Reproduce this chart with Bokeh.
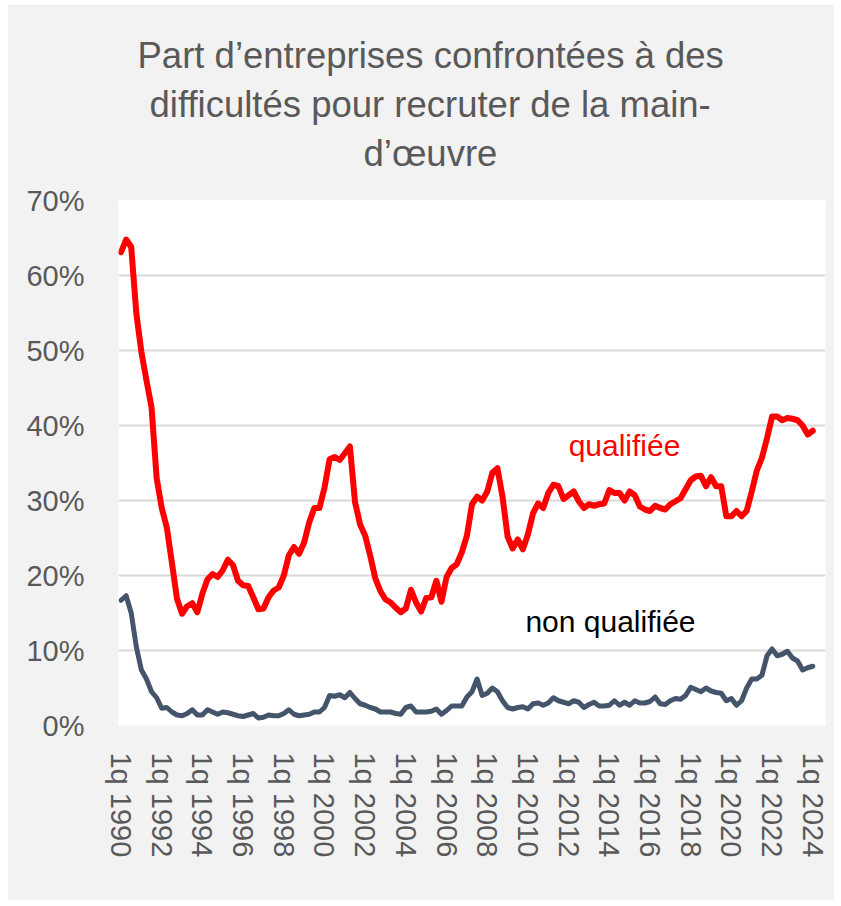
from bokeh.plotting import figure
from bokeh.models import Range1d, FixedTicker, Label, ColumnDataSource, Title
from bokeh.embed import file_html
from bokeh.resources import INLINE

# ---- data (quarterly, 1990q1 .. 2024q1), in percent ----
first_year = 1990
qualifiee = [
    63.1, 64.8, 63.8, 55.0, 49.8, 46.0, 42.4, 33.0,
    29.0, 26.4, 21.7, 16.9, 14.9, 15.9, 16.3, 15.1,
    17.6, 19.5, 20.2, 19.8, 20.7, 22.1, 21.4, 19.3,
    18.7, 18.6, 17.1, 15.5, 15.6, 17.1, 18.0, 18.4,
    20.0, 22.7, 23.8, 22.9, 24.4, 27.1, 29.0, 29.0,
    31.7, 35.5, 35.8, 35.4, 36.3, 37.2, 29.8, 26.8,
    25.3, 22.6, 19.6, 17.9, 16.8, 16.4, 15.7, 15.1,
    15.6, 18.1, 16.4, 15.2, 17.0, 17.1, 19.3, 16.5,
    19.8, 21.0, 21.5, 23.1, 25.3, 29.5, 30.5, 30.0,
    31.2, 33.7, 34.3, 30.5, 25.2, 23.6, 24.8, 23.5,
    25.5, 28.3, 29.6, 29.0, 31.0, 32.1, 31.9, 30.2,
    30.7, 31.2, 29.9, 29.0, 29.5, 29.3, 29.5, 29.6,
    31.4, 31.0, 31.0, 30.0, 31.2, 30.7, 29.2, 28.8,
    28.6, 29.3, 29.0, 28.8, 29.5, 29.9, 30.3, 31.5,
    32.7, 33.2, 33.3, 31.9, 33.1, 31.9, 31.9, 27.9,
    27.9, 28.6, 27.9, 28.6, 31.2, 34.0, 35.7, 38.3,
    41.2, 41.2, 40.7, 41.0, 40.9, 40.7, 40.0, 38.8,
    39.3,
]
non_qualifiee = [
    16.7, 17.3, 15.0, 10.5, 7.4, 6.2, 4.5, 3.7,
    2.3, 2.4, 1.8, 1.4, 1.3, 1.6, 2.1, 1.4,
    1.4, 2.1, 1.8, 1.5, 1.8, 1.7, 1.5, 1.3,
    1.2, 1.4, 1.6, 1.0, 1.1, 1.4, 1.3, 1.3,
    1.6, 2.1, 1.5, 1.3, 1.4, 1.5, 1.8, 1.8,
    2.4, 4.0, 3.9, 4.1, 3.7, 4.4, 3.6, 2.9,
    2.7, 2.4, 2.2, 1.8, 1.8, 1.8, 1.6, 1.5,
    2.4, 2.6, 1.8, 1.8, 1.8, 1.9, 2.2, 1.5,
    2.0, 2.6, 2.6, 2.6, 3.8, 4.5, 6.2, 4.0,
    4.3, 5.0, 4.5, 3.3, 2.4, 2.2, 2.4, 2.5,
    2.2, 2.9, 3.0, 2.7, 3.0, 3.7, 3.3, 3.1,
    2.9, 3.3, 3.1, 2.4, 2.8, 3.1, 2.6, 2.6,
    2.7, 3.3, 2.7, 3.1, 2.7, 3.3, 3.0, 3.0,
    3.2, 3.8, 2.9, 2.8, 3.3, 3.6, 3.5, 4.0,
    5.1, 4.8, 4.5, 5.0, 4.6, 4.4, 4.3, 3.3,
    3.6, 2.7, 3.3, 5.0, 6.2, 6.2, 6.7, 9.3,
    10.2, 9.3, 9.5, 9.9, 9.0, 8.6, 7.4, 7.7,
    7.9,
]
quarters = [f"{k % 4 + 1}q {first_year + k // 4}" for k in range(len(qualifiee))]
tick_years = list(range(1990, 2025, 2))
tick_labels = [f"1q {y}" for y in tick_years]
y_ticks = [0, 10, 20, 30, 40, 50, 60, 70]
y_tick_labels = [f"{v}%" for v in y_ticks]
title_lines = ["Part d\u2019entreprises confrontées à des",
               "difficultés pour recruter de la main-",
               "d\u2019œuvre"]
series_names = ["qualifiée", "non qualifiée"]

FONT = "Liberation Sans"
GREY_TXT = "#595959"

idx = list(range(len(quarters)))
src = ColumnDataSource(dict(x=idx, q=qualifiee, nq=non_qualifiee, label=quarters))

n_slots = len(quarters) + 2
p = figure(width=827, height=896, output_backend="svg", toolbar_location=None,
           x_range=Range1d(-0.5, n_slots - 0.5), y_range=Range1d(0, 70),
           min_border_left=111, min_border_right=9,
           min_border_top=196, min_border_bottom=175,
           background_fill_color="white", border_fill_color="#F2F2F2",
           outline_line_color=None)
p.margin = (4, 0, 0, 7)

# x axis
tick_pos = [quarters.index(lbl) for lbl in tick_labels]
p.xaxis.ticker = FixedTicker(ticks=tick_pos)
p.xaxis.major_label_overrides = {pos: lbl for pos, lbl in zip(tick_pos, tick_labels)}
p.xaxis.major_label_orientation = "vertical"
p.xaxis.major_label_standoff = 21
p.xaxis.axis_line_color = None
p.xaxis.major_tick_line_color = None
p.xaxis.minor_tick_line_color = None
p.xaxis.major_label_text_font = FONT
p.xaxis.major_label_text_font_size = "29px"
p.xaxis.major_label_text_color = GREY_TXT

# y axis
p.yaxis.ticker = FixedTicker(ticks=y_ticks)
p.yaxis.major_label_overrides = {v: s for v, s in zip(y_ticks, y_tick_labels)}
p.yaxis.major_label_standoff = 28
p.yaxis.axis_line_color = None
p.yaxis.major_tick_line_color = None
p.yaxis.minor_tick_line_color = None
p.yaxis.major_label_text_font = FONT
p.yaxis.major_label_text_font_size = "29px"
p.yaxis.major_label_text_color = GREY_TXT

p.xgrid.visible = False
p.ygrid.grid_line_color = "#D9D9D9"
p.ygrid.grid_line_width = 2

p.line("x", "nq", source=src, line_color="#44546A", line_width=5, line_join="round", line_cap="round")
p.line("x", "q", source=src, line_color="#FF0000", line_width=6, line_join="round", line_cap="round")

# series labels
p.add_layout(Label(x=88.0, y=37.4, text=series_names[0], text_color="#FF0000",
                   text_font=FONT, text_font_size="30px", text_align="left",
                   text_baseline="alphabetic"))
p.add_layout(Label(x=79.5, y=13.9, text=series_names[1], text_color="#000000",
                   text_font=FONT, text_font_size="30px", text_align="left",
                   text_baseline="alphabetic"))

# spacer between the title block and the plot area (closest to the frame)
p.add_layout(Title(text=" ", text_font_size="10px", standoff=11,
                   text_color=GREY_TXT, text_font=FONT), "above")

# title: three lines, stacked above the plot (last added is farthest up)
title_offsets = [19, 31, 245]
for line_txt, off in reversed(list(zip(title_lines, title_offsets))):
    p.add_layout(Title(text=line_txt, align="left", offset=off, standoff=6,
                       text_color=GREY_TXT, text_font=FONT, text_font_size="36.5px",
                       text_font_style="normal"), "above")

open("out.html", "w").write(file_html(p, INLINE))
